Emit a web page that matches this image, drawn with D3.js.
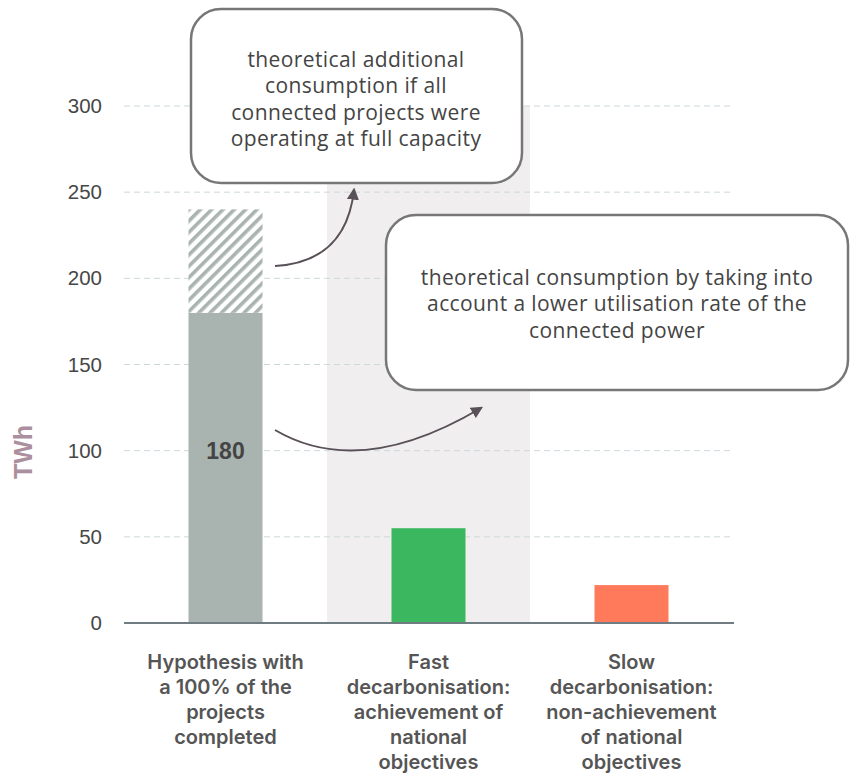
<!DOCTYPE html>
<html>
<head>
<meta charset="utf-8">
<script src="https://cdn.jsdelivr.net/npm/d3@7"></script>
<style>
  html, body { margin: 0; padding: 0; background: #fff; }
  svg { display: block; }
</style>
</head>
<body>
<svg id="chart" width="850" height="774"></svg>
<script>
// Scenario categories (multi-line labels)
const categories = ["hyp", "fast", "slow"];
const categoryLabels = [
  ["Hypothesis with", "a 100% of the", "projects", "completed"],
  ["Fast", "decarbonisation:", "achievement of", "national", "objectives"],
  ["Slow", "decarbonisation:", "non-achievement", "of national", "objectives"]
];
// Consumption in TWh
const baseValues = [180, 55, 22];
const extraValues = [60, 0, 0];          // hatched: theoretical additional consumption
const barColors = ["#a9b4b0", "#3bb85f", "#ff7a5a"];
const yTicks = [0, 50, 100, 150, 200, 250, 300];
const highlighted = "fast";
const valueLabels = [{ cat: "hyp", value: 180, text: "180" }];
const callouts = [
  "theoretical additional|consumption if all|connected projects were|operating at full capacity",
  "theoretical consumption by taking into|account a lower utilisation rate of the|connected power"
];

const svg = d3.select("#chart");
const y = d3.scaleLinear().domain([0, 300]).range([623, 106]);
const x = d3.scaleBand().domain(categories).range([124, 733]);
const barW = 74;
const bx = c => x(c) + (x.bandwidth() - barW) / 2;

// hatch pattern for the additional part
const defs = svg.append("defs");
const pat = defs.append("pattern")
  .attr("id", "hatch").attr("patternUnits", "userSpaceOnUse")
  .attr("width", 8).attr("height", 8)
  .attr("patternTransform", "rotate(45)");
pat.append("rect").attr("width", 8).attr("height", 8).attr("fill", "#ffffff");
pat.append("rect").attr("x", 0).attr("width", 3.6).attr("height", 8).attr("fill", "#a9b4b0");

// highlighted scenario band
svg.append("rect")
  .attr("x", x(highlighted)).attr("y", y(300))
  .attr("width", x.bandwidth()).attr("height", y(0) - y(300))
  .attr("fill", "#f0eeef");

// dashed gridlines
svg.append("g").selectAll("line")
  .data(yTicks.filter(d => d > 0)).join("line")
  .attr("x1", 124).attr("x2", 733)
  .attr("y1", d => y(d)).attr("y2", d => y(d))
  .attr("stroke", "#cdd8db").attr("stroke-width", 1)
  .attr("stroke-dasharray", "6,4");

// y axis labels
const yAxis = svg.append("g").attr("transform", "translate(112,0)")
  .call(d3.axisLeft(y).tickValues(yTicks).tickSize(0).tickPadding(10));
yAxis.select(".domain").remove();
yAxis.selectAll("text")
  .attr("font-family", "'Liberation Sans', Arial, sans-serif")
  .attr("font-size", 20.5).attr("fill", "#474747");

svg.append("text")
  .attr("transform", "translate(23,452) rotate(-90)")
  .attr("text-anchor", "middle")
  .attr("dy", "0.35em")
  .attr("font-family", "'Liberation Sans', Arial, sans-serif")
  .attr("font-weight", "bold").attr("font-size", 25)
  .attr("fill", "#ab8f9e").text("TWh");

// bars
svg.append("g").selectAll("rect")
  .data(categories).join("rect")
  .attr("x", d => bx(d))
  .attr("y", (d, i) => y(baseValues[i]))
  .attr("width", barW)
  .attr("height", (d, i) => y(0) - y(baseValues[i]))
  .attr("fill", (d, i) => barColors[i]);

svg.append("g").selectAll("rect")
  .data(categories.filter((d, i) => extraValues[i] > 0)).join("rect")
  .attr("x", d => bx(d))
  .attr("y", d => { const i = categories.indexOf(d); return y(baseValues[i] + extraValues[i]); })
  .attr("width", barW)
  .attr("height", d => { const i = categories.indexOf(d); return y(baseValues[i]) - y(baseValues[i] + extraValues[i]); })
  .attr("fill", "url(#hatch)");

// x axis baseline
svg.append("line")
  .attr("x1", 124).attr("x2", 734).attr("y1", y(0)).attr("y2", y(0))
  .attr("stroke", "#6f7d82").attr("stroke-width", 2);

// value label, set slightly above the bar's midpoint
svg.append("g").selectAll("text")
  .data(valueLabels).join("text")
  .attr("x", d => x(d.cat) + x.bandwidth() / 2)
  .attr("y", d => y(d.value / 2) - 17)
  .attr("dy", "0.35em")
  .attr("text-anchor", "middle")
  .attr("font-family", "'Liberation Sans', Arial, sans-serif")
  .attr("font-weight", "bold").attr("font-size", 23)
  .attr("fill", "#444").text(d => d.text);

// category labels, one text element per line
const catG = svg.append("g");
categories.forEach((c, i) => {
  categoryLabels[i].forEach((ln, j) => {
    catG.append("text")
      .attr("x", x(c) + x.bandwidth() / 2)
      .attr("y", 669 + j * 25)
      .attr("text-anchor", "middle")
      .attr("font-family", "Inter, sans-serif")
      .attr("font-weight", 600).attr("font-size", 20)
      .attr("fill", "#555").text(ln);
  });
});

// arrows
defs.append("marker")
  .attr("id", "arrow").attr("viewBox", "0 0 10 10")
  .attr("refX", 8).attr("refY", 5)
  .attr("markerWidth", 6).attr("markerHeight", 6)
  .attr("orient", "auto-start-reverse")
  .append("path").attr("d", "M0,0 L10,5 L0,10 z").attr("fill", "#5a5058");

const arrowPaths = [
  "M275,266 Q346,262 354,190",
  "M275,430 Q360,480 481,408"
];
svg.append("g").selectAll("path")
  .data(arrowPaths).join("path")
  .attr("d", d => d)
  .attr("fill", "none").attr("stroke", "#5a5058").attr("stroke-width", 2)
  .attr("marker-end", "url(#arrow)");

// callout boxes
const boxes = [
  { x: 191, y: 9, w: 331, h: 174, cx: 356, ty: 67, fs: 21 },
  { x: 386, y: 215, w: 462, h: 175, cx: 617, ty: 285, fs: 21 }
];
boxes.forEach((b, i) => {
  svg.append("rect")
    .attr("x", b.x).attr("y", b.y).attr("width", b.w).attr("height", b.h)
    .attr("rx", 30).attr("ry", 30)
    .attr("fill", "#fff").attr("stroke", "#777").attr("stroke-width", 2.5);
  const t = svg.append("text")
    .attr("text-anchor", "middle")
    .attr("font-family", "'Open Sans', sans-serif")
    .attr("font-size", b.fs).attr("letter-spacing", 0.4).attr("fill", "#444");
  callouts[i].split("|").forEach((ln, j) => {
    t.append("tspan").attr("x", b.cx).attr("y", b.ty + j * 26.3).text(ln);
  });
});
</script>
</body>
</html>
